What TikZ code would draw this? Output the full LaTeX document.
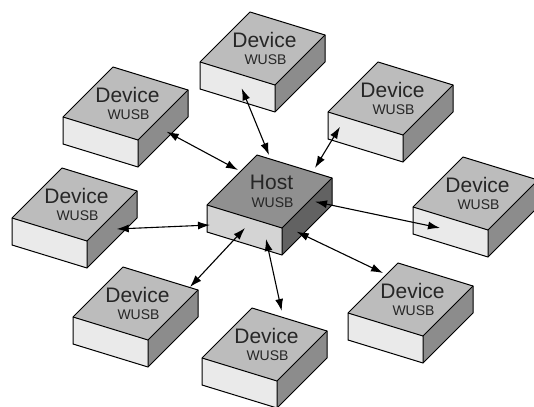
\documentclass[tikz,border=0pt]{standalone}
\usepackage{fontspec}
\setmainfont{Liberation Sans}
\usetikzlibrary{arrows.meta}
\definecolor{devtop}{HTML}{BCBCBC}
\definecolor{devfront}{HTML}{EAEAEA}
\definecolor{devside}{HTML}{8C8C8C}
\definecolor{hosttop}{HTML}{909090}
\definecolor{hostfront}{HTML}{D4D4D4}
\definecolor{hostside}{HTML}{626262}
\tikzset{
  boxline/.style={draw=black, line width=1pt, line join=round},
  bigtext/.style={font=\fontsize{21}{23}\selectfont, text=black!85, inner sep=0pt},
  smalltext/.style={font=\fontsize{14}{15}\selectfont, text=black!85, inner sep=0pt},
  link/.style={line width=1.1pt, {Latex[length=12pt,width=8pt]}-{Latex[length=12pt,width=8pt]}}
}
% #1 name, #2 x, #3 y, #4 colour prefix (dev/host), #5 label
\newcommand\wbox[5]{%
  \begin{scope}[shift={(#2,#3)}]
    \fill[#4front] (0,0) -- (75,23) -- (75,50) -- (0,27) -- cycle;
    \fill[#4side] (75,23) -- (125,-27) -- (125,0) -- (75,50) -- cycle;
    \fill[#4top] (0,0) -- (50,-50) -- (125,-27) -- (75,23) -- cycle;
    \draw[boxline] (0,0) -- (50,-50) -- (125,-27) -- (125,0) -- (75,50) -- (0,27) -- cycle;
    \draw[boxline] (0,0) -- (75,23) -- (125,-27) (75,23) -- (75,50);
    \node[bigtext] (#1-t) at (64.5,-22.5) {#5};
    \node[smalltext] (#1-s) at (65.5,-2) {WUSB};
  \end{scope}}
\begin{document}
\begin{tikzpicture}[x=1pt,y=-1pt]
  \clip (0,0) rectangle (534,406);
  \fill[white] (0,0) rectangle (534,406);
  % boxes
  \wbox{top}{200}{62}{dev}{Device}
  \wbox{ul}{63}{117}{dev}{Device}
  \wbox{ur}{328}{112}{dev}{Device}
  \wbox{le}{12}{218}{dev}{Device}
  \wbox{ri}{413}{207}{dev}{Device}
  \wbox{host}{207}{205}{host}{Host}
  \wbox{lr}{348}{313}{dev}{Device}
  \wbox{ll}{73}{317}{dev}{Device}
  \wbox{bo}{202}{358}{dev}{Device}
  % connector end points
  \coordinate (top-p) at (241.7,88.3);
  \coordinate (host-p1) at (269,155);
  \coordinate (ul-p) at (166.7,131.7);
  \coordinate (host-p2) at (238,170);
  \coordinate (ur-p) at (340,126.7);
  \coordinate (host-p3) at (315,168);
  \coordinate (le-p) at (116.7,229);
  \coordinate (host-p4) at (210,225);
  \coordinate (ri-p) at (440,228);
  \coordinate (host-p5) at (315,201.7);
  \coordinate (lr-p) at (383,273);
  \coordinate (host-p6) at (296.7,231.7);
  \coordinate (bo-p) at (281.7,311);
  \coordinate (host-p7) at (266,239);
  \coordinate (ll-p) at (190,287);
  \coordinate (host-p8) at (245,228);
  % connectors
  \draw[link] (top-p) -- (host-p1);
  \draw[link] (ul-p) -- (host-p2);
  \draw[link] (ur-p) -- (host-p3);
  \draw[link] (le-p) -- (host-p4);
  \draw[link] (host-p5) -- (ri-p);
  \draw[link] (host-p6) -- (lr-p);
  \draw[link] (host-p7) -- (bo-p);
  \draw[link] (host-p8) -- (ll-p);
\end{tikzpicture}
\end{document}
